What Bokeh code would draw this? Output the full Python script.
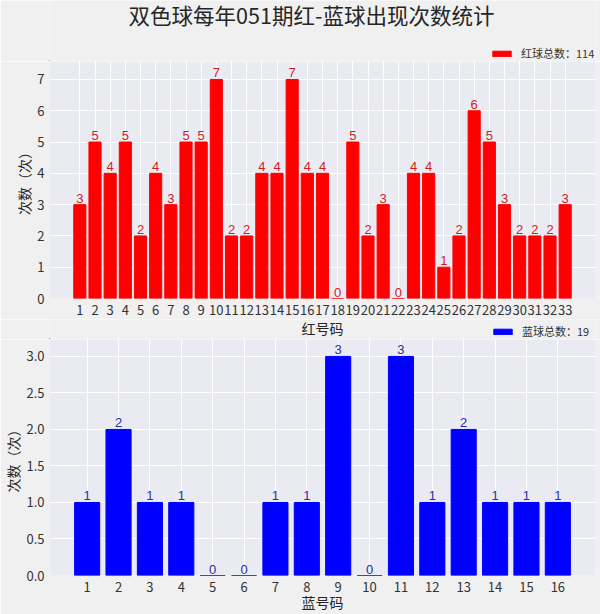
from bokeh.plotting import figure
from bokeh.models import (ColumnDataSource, FixedTicker, Legend, LegendItem, Label,
                          Range1d, CustomJSTickFormatter)
from bokeh.layouts import column
from bokeh.embed import file_html
from bokeh.resources import INLINE
from bokeh.core.properties import value

# ---------------- data ----------------
title_text = "双色球每年051期红-蓝球出现次数统计"
red_numbers = list(range(1, 34))
red_counts = [3, 5, 4, 5, 2, 4, 3, 5, 5, 7, 2, 2, 4, 4, 7, 4, 4, 0, 5, 2, 3, 0,
              4, 4, 1, 2, 6, 5, 3, 2, 2, 2, 3]
blue_numbers = list(range(1, 17))
blue_counts = [1, 2, 1, 1, 0, 0, 1, 1, 3, 0, 3, 1, 2, 1, 1, 1]
red_xlabel = "红号码"
blue_xlabel = "蓝号码"
ylabel = "次数（次）"
red_legend = "红球总数：" + str(sum(red_counts))
blue_legend = "蓝球总数：" + str(sum(blue_counts))
red_yticks = [0, 1, 2, 3, 4, 5, 6, 7]
blue_yticks = [0, 0.5, 1.0, 1.5, 2.0, 2.5, 3.0]

# ---------------- style ----------------
FONT = "Noto Sans CJK SC"
NUM_FONT = "Liberation Sans"
PAGE_BG = "#f0f0f0"
PLOT_BG = "#eaeaf2"
TXT = "#262626"
RED = "#ff0000"
BLUE = "#0000ff"
W = 600
BL, BR = 48, 5          # left / right borders shared by every row


def style(p, xlabel=None):
    p.background_fill_color = PLOT_BG
    p.border_fill_color = PAGE_BG
    p.outline_line_color = None
    p.grid.grid_line_color = "white"
    p.grid.grid_line_width = 1
    for ax in (p.xaxis, p.yaxis):
        ax.axis_line_color = None
        ax.major_tick_line_color = None
        ax.minor_tick_line_color = None
        ax.major_tick_out = 0
        ax.major_tick_in = 0
        ax.major_label_text_font = FONT
        ax.major_label_text_font_size = "13px"
        ax.major_label_text_color = "#333333"
        ax.axis_label_text_font = FONT
        ax.axis_label_text_font_size = "14px"
        ax.axis_label_text_font_style = "normal"
        ax.axis_label_text_color = TXT
        ax.axis_label_standoff = 0
    p.xaxis.major_label_standoff = 6
    p.yaxis.major_label_standoff = 5
    if xlabel:
        p.xaxis.axis_label = xlabel
        p.xaxis.axis_label_standoff = -3
    p.yaxis.axis_label = ylabel


def strip(height):
    s = figure(width=W, height=height, output_backend="svg", toolbar_location=None,
               x_range=Range1d(0, W - BL - BR), y_range=Range1d(0, height),
               x_axis_type=None, y_axis_type=None, min_border_left=BL,
               min_border_right=BR, min_border_top=0, min_border_bottom=0)
    s.background_fill_color = PAGE_BG
    s.border_fill_color = PAGE_BG
    s.outline_line_color = None
    s.grid.visible = False
    return s


def add_label(s, x, y, text, size):
    # x, y: screen px relative to the frame (left edge at page x = BL, y measured up)
    s.add_layout(Label(x=x, y=y, x_units="screen", y_units="screen", text=text,
                       text_font=FONT, text_font_size=size, text_color=TXT,
                       text_align="center", text_baseline="middle"))


def add_legend(s, color, label, loc):
    # legend-only renderer: one swatch entry placed outside the strip's visible range
    r = s.vbar(x=[-1000], top=[1], width=0.8, fill_color=color, line_color=color)
    lg = Legend(items=[LegendItem(label=label, renderers=[r])], location=loc,
                orientation="horizontal", padding=0, margin=0, spacing=0,
                glyph_width=23, glyph_height=7, label_height=7, label_standoff=8,
                label_text_font=FONT, label_text_font_size="11px",
                label_text_color="#333333",
                background_fill_alpha=0, border_line_alpha=0)
    s.add_layout(lg)


# ---------------- header strip: title + red legend ----------------
s1 = strip(61)
add_label(s1, 310 - BL, 47, title_text, "21.5px")
add_legend(s1, RED, red_legend, (489 - BL, 0))

# ---------------- red chart ----------------
p1 = figure(width=W, height=258, output_backend="svg", toolbar_location=None,
            x_range=Range1d(-1, 35), y_range=Range1d(0, 7.574),
            min_border_left=BL, min_border_right=BR, min_border_top=0,
            min_border_bottom=21)
style(p1)
src1 = ColumnDataSource(dict(x=red_numbers, y=red_counts, t=[str(v) for v in red_counts]))
p1.vbar(x="x", top="y", width=0.8, source=src1, fill_color=RED, line_color=RED)
p1.text(x="x", y="y", text="t", source=src1, text_align="center",
        text_baseline="bottom", y_offset=-2, text_font=value(NUM_FONT),
        text_font_size="13px", text_color="#d41a1a")
p1.xaxis.ticker = FixedTicker(ticks=red_numbers)
p1.yaxis.ticker = FixedTicker(ticks=red_yticks)

# ---------------- middle strip: red x label + blue legend ----------------
s2 = strip(20)
add_label(s2, 321 - BL, 12, red_xlabel, "14px")
add_legend(s2, BLUE, blue_legend, (490 - BL, 0))

# ---------------- blue chart ----------------
p2 = figure(width=W, height=275, output_backend="svg", toolbar_location=None,
            x_range=Range1d(-0.2, 17.2), y_range=Range1d(0, 3.232),
            min_border_left=BL, min_border_right=BR, min_border_top=0,
            min_border_bottom=38)
style(p2, blue_xlabel)
src2 = ColumnDataSource(dict(x=blue_numbers, y=blue_counts, t=[str(v) for v in blue_counts]))
p2.vbar(x="x", top="y", width=0.8, source=src2, fill_color=BLUE, line_color=BLUE)
p2.text(x="x", y="y", text="t", source=src2, text_align="center",
        text_baseline="bottom", y_offset=-2, text_font=value(NUM_FONT),
        text_font_size="13px", text_color="#2a2aaa")
p2.xaxis.ticker = FixedTicker(ticks=blue_numbers)
p2.yaxis.ticker = FixedTicker(ticks=blue_yticks)
p2.yaxis.formatter = CustomJSTickFormatter(code="return tick.toFixed(1);")

layout = column(s1, p1, s2, p2, spacing=0)
html = file_html(layout, INLINE, title="chart")
html = html.replace("<body>", '<body style="background:%s">' % PAGE_BG, 1)
open("out.html", "w").write(html)
